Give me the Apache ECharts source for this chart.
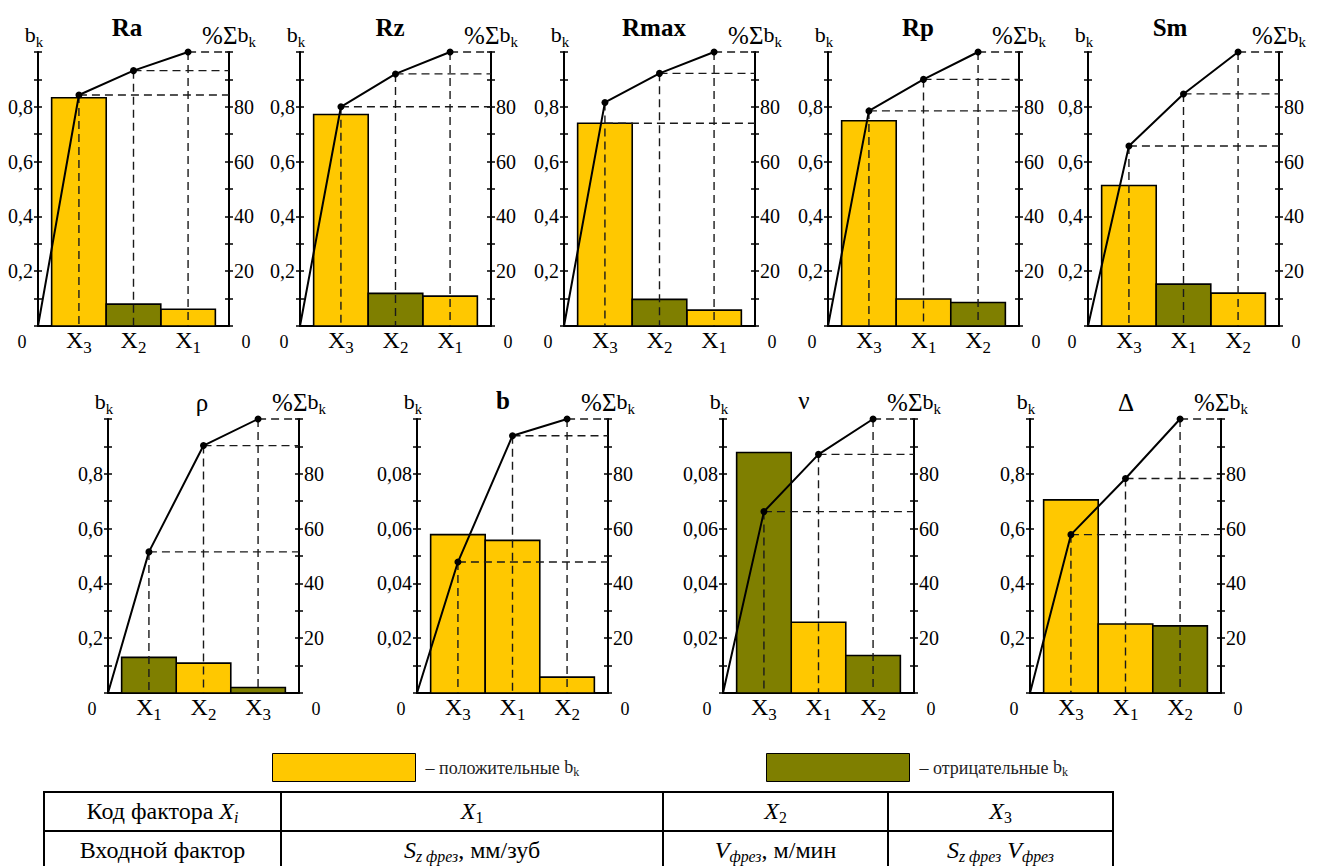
<!DOCTYPE html>
<html><head><meta charset="utf-8">
<script src="https://cdn.jsdelivr.net/npm/echarts@6/dist/echarts.min.js"></script>
<style>
html,body{margin:0;padding:0;background:#fff;overflow:hidden;}
#chart{position:absolute;left:0;top:0;width:1326px;height:866px;}
table{position:absolute;left:43px;top:791px;border-collapse:collapse;font-family:"Liberation Serif","Times New Roman",serif;font-size:24px;color:#000;table-layout:fixed;}
td{border:2px solid #000;height:37px;padding:0;text-align:center;white-space:nowrap;line-height:37px;}
sub{font-size:66%;vertical-align:-0.25em;line-height:0;}
</style></head><body>
<div id="chart"></div>
<table>
<tr><td style="width:235px">Код фактора <i>X<sub>i</sub></i></td><td style="width:380px"><i>X</i><sub>1</sub></td><td style="width:223px"><i>X</i><sub>2</sub></td><td style="width:223px"><i>X</i><sub>3</sub></td></tr>
<tr><td>Входной фактор</td><td><i>S<sub>z фрез</sub></i>, мм/зуб</td><td><i>V<sub>фрез</sub></i>, м/мин</td><td><i>S<sub>z фрез</sub> V<sub>фрез</sub></i></td></tr>
</table>
<script>
// ---- data (signed coefficients b_k: negative = olive bar) ----
const raFactors = ['X3','X2','X1'];   const raCoef = [0.833, -0.080, 0.061];    const raCum = [84.3, 93.2, 100];
const rzFactors = ['X3','X2','X1'];   const rzCoef = [0.772, -0.119, 0.109];    const rzCum = [80.0, 92.0, 100];
const rmaxFactors = ['X3','X2','X1']; const rmaxCoef = [0.740, -0.097, 0.058];  const rmaxCum = [81.6, 92.2, 100];
const rmaxGuide = [74.0, 92.2, 100];
const rpFactors = ['X3','X1','X2'];   const rpCoef = [0.749, 0.0985, -0.086];   const rpCum = [78.5, 90.0, 100];
const smFactors = ['X3','X1','X2'];   const smCoef = [0.513, -0.153, 0.120];    const smCum = [65.7, 84.7, 100];
const rhoFactors = ['X1','X2','X3'];  const rhoCoef = [-0.130, 0.109, -0.020];  const rhoCum = [51.5, 90.3, 100];
const bFactors = ['X3','X1','X2'];    const bCoef = [0.0578, 0.0557, 0.0058];   const bCum = [47.8, 93.9, 100];
const nuFactors = ['X3','X1','X2'];   const nuCoef = [-0.0878, 0.0258, -0.0137];const nuCum = [66.2, 87.1, 100];
const deltaFactors = ['X3','X1','X2'];const deltaCoef = [0.705, 0.252, -0.245]; const deltaCum = [57.8, 78.3, 100];
const titles = ['Ra','Rz','Rmax','Rp','Sm','ρ','b','ν','Δ'];
const bkMax = [1, 1, 1, 1, 1, 1, 0.1, 0.1, 1];

const charts = [
  {factors: raFactors, coef: raCoef, cum: raCum, guide: raCum},
  {factors: rzFactors, coef: rzCoef, cum: rzCum, guide: rzCum},
  {factors: rmaxFactors, coef: rmaxCoef, cum: rmaxCum, guide: rmaxGuide},
  {factors: rpFactors, coef: rpCoef, cum: rpCum, guide: rpCum},
  {factors: smFactors, coef: smCoef, cum: smCum, guide: smCum},
  {factors: rhoFactors, coef: rhoCoef, cum: rhoCum, guide: rhoCum},
  {factors: bFactors, coef: bCoef, cum: bCum, guide: bCum},
  {factors: nuFactors, coef: nuCoef, cum: nuCum, guide: nuCum},
  {factors: deltaFactors, coef: deltaCoef, cum: deltaCum, guide: deltaCum}
];

// ---- layout / style ----
const YELLOW = '#FFC800', OLIVE = '#7F7F00';
const FONT = 'Liberation Serif';
const XMIN = -0.75, XMAX = 2.75;
const layout = [
  {left: 38, top: 52, tx: 127, ty: 27, bold: true},
  {left: 300, top: 52, tx: 390, ty: 27, bold: true},
  {left: 564, top: 52, tx: 654, ty: 27, bold: true},
  {left: 828, top: 52, tx: 918, ty: 27, bold: true},
  {left: 1088, top: 52, tx: 1170, ty: 27, bold: true},
  {left: 108, top: 419, tx: 202, ty: 402, bold: false},
  {left: 417, top: 419, tx: 503, ty: 400, bold: true},
  {left: 723, top: 419, tx: 804, ty: 400, bold: false},
  {left: 1030, top: 419, tx: 1126, ty: 402, bold: false}
];
const GW = 191, GH = 274;

const xRich = {
  x: {fontFamily: FONT, fontSize: 24, color: '#000', lineHeight: 28, verticalAlign: 'top'},
  s: {fontFamily: FONT, fontSize: 17, color: '#000', lineHeight: 16, verticalAlign: 'bottom'},
  z0: {fontFamily: FONT, fontSize: 18, color: '#000', lineHeight: 28, padding: [0, 32, 0, 0]},
  z1: {fontFamily: FONT, fontSize: 18, color: '#000', lineHeight: 28, padding: [0, 0, 0, 34]}
};
const nameRich = {
  b: {fontFamily: FONT, fontSize: 22, color: '#000', lineHeight: 26, verticalAlign: 'top'},
  p: {fontFamily: FONT, fontSize: 25, color: '#000', lineHeight: 26, verticalAlign: 'top'},
  k: {fontFamily: FONT, fontSize: 15, color: '#000', lineHeight: 16, verticalAlign: 'bottom'}
};
const legRich = {
  b: {fontFamily: FONT, fontSize: 18, color: '#222', lineHeight: 20, verticalAlign: 'top'},
  k: {fontFamily: FONT, fontSize: 12, color: '#222', lineHeight: 13, verticalAlign: 'bottom'}
};

const option = {
  animation: false,
  backgroundColor: '#fff',
  textStyle: {fontFamily: FONT},
  title: [], grid: [], xAxis: [], yAxis: [], series: [],
  legend: [
    {left: 272, top: 753, padding: 0, itemWidth: 143, itemHeight: 28, selectedMode: false,
     data: [{name: 'положительные', icon: 'rect', itemStyle: {color: YELLOW, borderColor: '#000', borderWidth: 1}}],
     formatter: () => '– положительные {b|b}{k|k}',
     textStyle: {fontFamily: FONT, fontSize: 18, color: '#222', padding: [0, 0, 0, 5], rich: legRich}},
    {left: 766, top: 753, padding: 0, itemWidth: 143, itemHeight: 28, selectedMode: false,
     data: [{name: 'отрицательные', icon: 'rect', itemStyle: {color: OLIVE, borderColor: '#000', borderWidth: 1}}],
     formatter: () => '– отрицательные {b|b}{k|k}',
     textStyle: {fontFamily: FONT, fontSize: 18, color: '#222', padding: [0, 0, 0, 5], rich: legRich}}
  ]
};

function barRender(params, api) {
  const x = api.value(0), v = api.value(1);
  const p0 = api.coord([x - 0.5, v]);
  const p1 = api.coord([x + 0.5, 0]);
  return {type: 'rect', shape: {x: p0[0], y: p0[1], width: p1[0] - p0[0], height: p1[1] - p0[1]},
    style: {fill: api.visual('color'), stroke: '#000', lineWidth: 1.6}};
}
function guideRender(params, api) {
  const x = api.value(0), c = api.value(1), h = api.value(2);
  const pt = api.coord([x, c]), base = api.coord([x, 0]);
  const hs = api.coord([x, h]), he = api.coord([XMAX, h]);
  const st = {stroke: '#1a1a1a', lineWidth: 1.4, lineDash: [8, 5], fill: null};
  return {type: 'group', children: [
    {type: 'line', shape: {x1: pt[0], y1: pt[1], x2: base[0], y2: base[1]}, style: st},
    {type: 'line', shape: {x1: hs[0], y1: hs[1], x2: he[0], y2: he[1]}, style: st}
  ]};
}

charts.forEach((c, i) => {
  const L = layout[i];
  const M = bkMax[i];
  option.title.push({text: titles[i], left: L.tx, top: L.ty, textAlign: 'center', textVerticalAlign: 'middle', padding: 0,
    textStyle: {fontFamily: FONT, fontSize: 25, fontWeight: L.bold ? 'bold' : 'normal', color: '#000'}});
  option.grid.push({left: L.left, top: L.top, width: GW, height: GH, containLabel: false, outerBoundsMode: 'none'});
  option.xAxis.push({type: 'value', gridIndex: i, min: XMIN, max: XMAX,
    axisLine: {show: true, onZero: false, lineStyle: {color: '#000', width: 2}},
    axisTick: {show: false}, splitLine: {show: false},
    axisLabel: {customValues: [XMIN, 0, 1, 2, XMAX], margin: 2, showMinLabel: true, showMaxLabel: true, hideOverlap: false,
      fontFamily: FONT,
      formatter: (v) => {
        if (Math.abs(v - XMIN) < 1e-6) return '{z0|0}';
        if (Math.abs(v - XMAX) < 1e-6) return '{z1|0}';
        const f = c.factors[Math.round(v)];
        return '{x|X}{s|' + f.slice(1) + '}';
      }, rich: xRich}});
  const leftFmt = (v) => {
    const k = Math.round(v / (M / 10));
    if (k % 2 === 0 && k > 0 && k < 10) return (k * M / 10).toFixed(M < 1 ? 2 : 1).replace('.', ',');
    return '';
  };
  const rightFmt = (v) => {
    const r = Math.round(v);
    return (r > 0 && r < 100 && r % 20 === 0) ? String(r) : '';
  };
  const tickStyle = {color: '#000', width: 1.5};
  option.yAxis.push(
    {type: 'value', gridIndex: i, position: 'left', min: 0, max: M, interval: M / 10,
     axisLine: {show: true, onZero: false, lineStyle: {color: '#000', width: 2}},
     axisTick: {show: true, length: 4, lineStyle: tickStyle},
     splitLine: {show: false},
     axisLabel: {margin: 5, fontFamily: FONT, fontSize: 20, color: '#000', formatter: leftFmt, showMinLabel: true, showMaxLabel: true},
     name: '{b|b}{k|k}', nameLocation: 'end', nameGap: 3, nameTextStyle: {fontFamily: FONT, padding: [0, 8, 0, 0], rich: nameRich}},
    {type: 'value', gridIndex: i, position: 'left', min: 0, max: M, interval: M / 10,
     axisLine: {show: false, onZero: false}, axisTick: {show: true, inside: true, length: 4, lineStyle: tickStyle},
     splitLine: {show: false}, axisLabel: {show: false}},
    {type: 'value', gridIndex: i, position: 'right', min: 0, max: 100, interval: 10,
     axisLine: {show: true, onZero: false, lineStyle: {color: '#000', width: 2}},
     axisTick: {show: true, length: 4, lineStyle: tickStyle},
     splitLine: {show: false},
     axisLabel: {margin: 5, fontFamily: FONT, fontSize: 20, color: '#000', formatter: rightFmt},
     name: '{p|%Σ}{b|b}{k|k}', nameLocation: 'end', nameGap: 3, nameTextStyle: {fontFamily: FONT, rich: nameRich}},
    {type: 'value', gridIndex: i, position: 'right', min: 0, max: 100, interval: 10,
     axisLine: {show: false, onZero: false}, axisTick: {show: true, inside: true, length: 4, lineStyle: tickStyle},
     splitLine: {show: false}, axisLabel: {show: false}}
  );
  const posData = [], negData = [];
  c.coef.forEach((b, j) => { (b >= 0 ? posData : negData).push([j, Math.abs(b)]); });
  option.series.push(
    {type: 'custom', name: 'положительные', xAxisIndex: i, yAxisIndex: 4 * i, itemStyle: {color: YELLOW},
     renderItem: barRender, data: posData, z: 2, silent: true},
    {type: 'custom', name: 'отрицательные', xAxisIndex: i, yAxisIndex: 4 * i, itemStyle: {color: OLIVE},
     renderItem: barRender, data: negData, z: 2, silent: true},
    {type: 'custom', name: 'guide' + i, xAxisIndex: i, yAxisIndex: 4 * i + 2,
     renderItem: guideRender, data: c.cum.map((p, j) => [j, p, c.guide[j]]), z: 3, silent: true},
    {type: 'line', name: 'cum' + i, xAxisIndex: i, yAxisIndex: 4 * i + 2, z: 4, silent: true,
     symbol: 'circle', symbolSize: 7, itemStyle: {color: '#000'}, lineStyle: {color: '#000', width: 2},
     data: [{value: [XMIN, 0], symbol: 'none'}].concat(c.cum.map((p, j) => [j, p]))}
  );
});

const chart = echarts.init(document.getElementById('chart'), null, {renderer: 'svg'});
chart.setOption(option);
</script>
</body></html>
